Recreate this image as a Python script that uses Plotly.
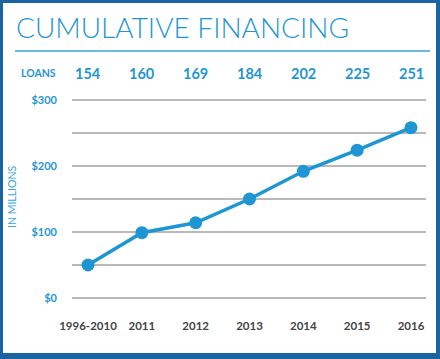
import plotly.graph_objects as go

categories = ["1996-2010", "2011", "2012", "2013", "2014", "2015", "2016"]
financing = [50, 99, 114, 150, 192, 224, 258]
loans = [154, 160, 169, 184, 202, 225, 251]
y_tickvals = [0, 100, 200, 300]
y_ticktext = ["$0", "$100", "$200", "$300"]

W, H = 440, 359
L, R, T, B = 72, 14, 97, 58
PW, PH = W - L - R, H - T - B

def px(x):
    return (x - L) / PW

def py(y):
    return (H - B - y) / PH

BLUE = "#1f96d4"
DARK = "#1b64a3"

fig = go.Figure()
fig.add_trace(go.Scatter(
    x=list(range(len(categories))), y=financing, mode="lines+markers",
    line=dict(color=BLUE, width=3.5),
    marker=dict(color=BLUE, size=13),
    hoverinfo="skip", showlegend=False,
))

shapes = [
    dict(type="rect", xref="paper", yref="paper", x0=px(3), x1=px(436), y0=py(353), y1=py(3),
         fillcolor="white", line=dict(width=0), layer="below"),
    dict(type="line", xref="paper", yref="paper", x0=px(15), x1=px(430), y0=py(51), y1=py(51),
         line=dict(color="#3aa3dc", width=1.5)),
]

annotations = [
    dict(text="CUMULATIVE FINANCING", xref="paper", yref="paper", x=px(14), y=py(27),
         xanchor="left", yanchor="middle", showarrow=False,
         font=dict(family="Lato", size=28, color=BLUE, weight=300)),
    dict(text="<b>LOANS</b>", xref="paper", yref="paper", x=px(38), y=py(73),
         xanchor="center", yanchor="middle", showarrow=False,
         font=dict(family="Lato", size=10.5, color=BLUE)),
    dict(text="IN MILLIONS", xref="paper", yref="paper", x=px(12), y=py(197),
         xanchor="center", yanchor="middle", showarrow=False, textangle=-90,
         font=dict(family="Lato", size=10.5, color="#3aa3dc")),
]
for i, n in enumerate(loans):
    annotations.append(dict(text=f"<b>{n}</b>", xref="x", yref="paper", x=i, y=py(73),
                            xanchor="center", yanchor="middle", showarrow=False,
                            font=dict(family="Lato", size=14.5, color=BLUE)))

fig.update_layout(
    width=W, height=H,
    margin=dict(l=L, r=R, t=T, b=B, pad=0),
    paper_bgcolor=DARK, plot_bgcolor="rgba(0,0,0,0)",
    shapes=shapes, annotations=annotations,
    xaxis=dict(
        tickvals=list(range(len(categories))), ticktext=[f"<b>{c}</b>" for c in categories],
        range=[-16 / 53.83, 6 + 15 / 53.83],
        showgrid=False, zeroline=False, showline=False, ticks="",
        ticklabelstandoff=16,
        tickfont=dict(family="Lato", size=11.5, color="#444444"),
    ),
    yaxis=dict(
        tickvals=y_tickvals, ticktext=[f"<b>{t}</b>" for t in y_ticktext],
        range=[-3 / 0.66, 300 + 3 / 0.66],
        showgrid=True, gridcolor="#b9b9b9", gridwidth=1.5,
        minor=dict(dtick=50, tick0=0, showgrid=True, gridcolor="#b9b9b9", gridwidth=1.5),
        zeroline=False, showline=False, ticks="",
        ticklabelstandoff=14,
        tickfont=dict(family="Lato", size=11, color=BLUE),
    ),
)

fig.write_html(
    "out.html",
    config={"displayModeBar": False},
    post_script="document.body.style.margin='0';document.body.style.overflow='hidden';",
)
